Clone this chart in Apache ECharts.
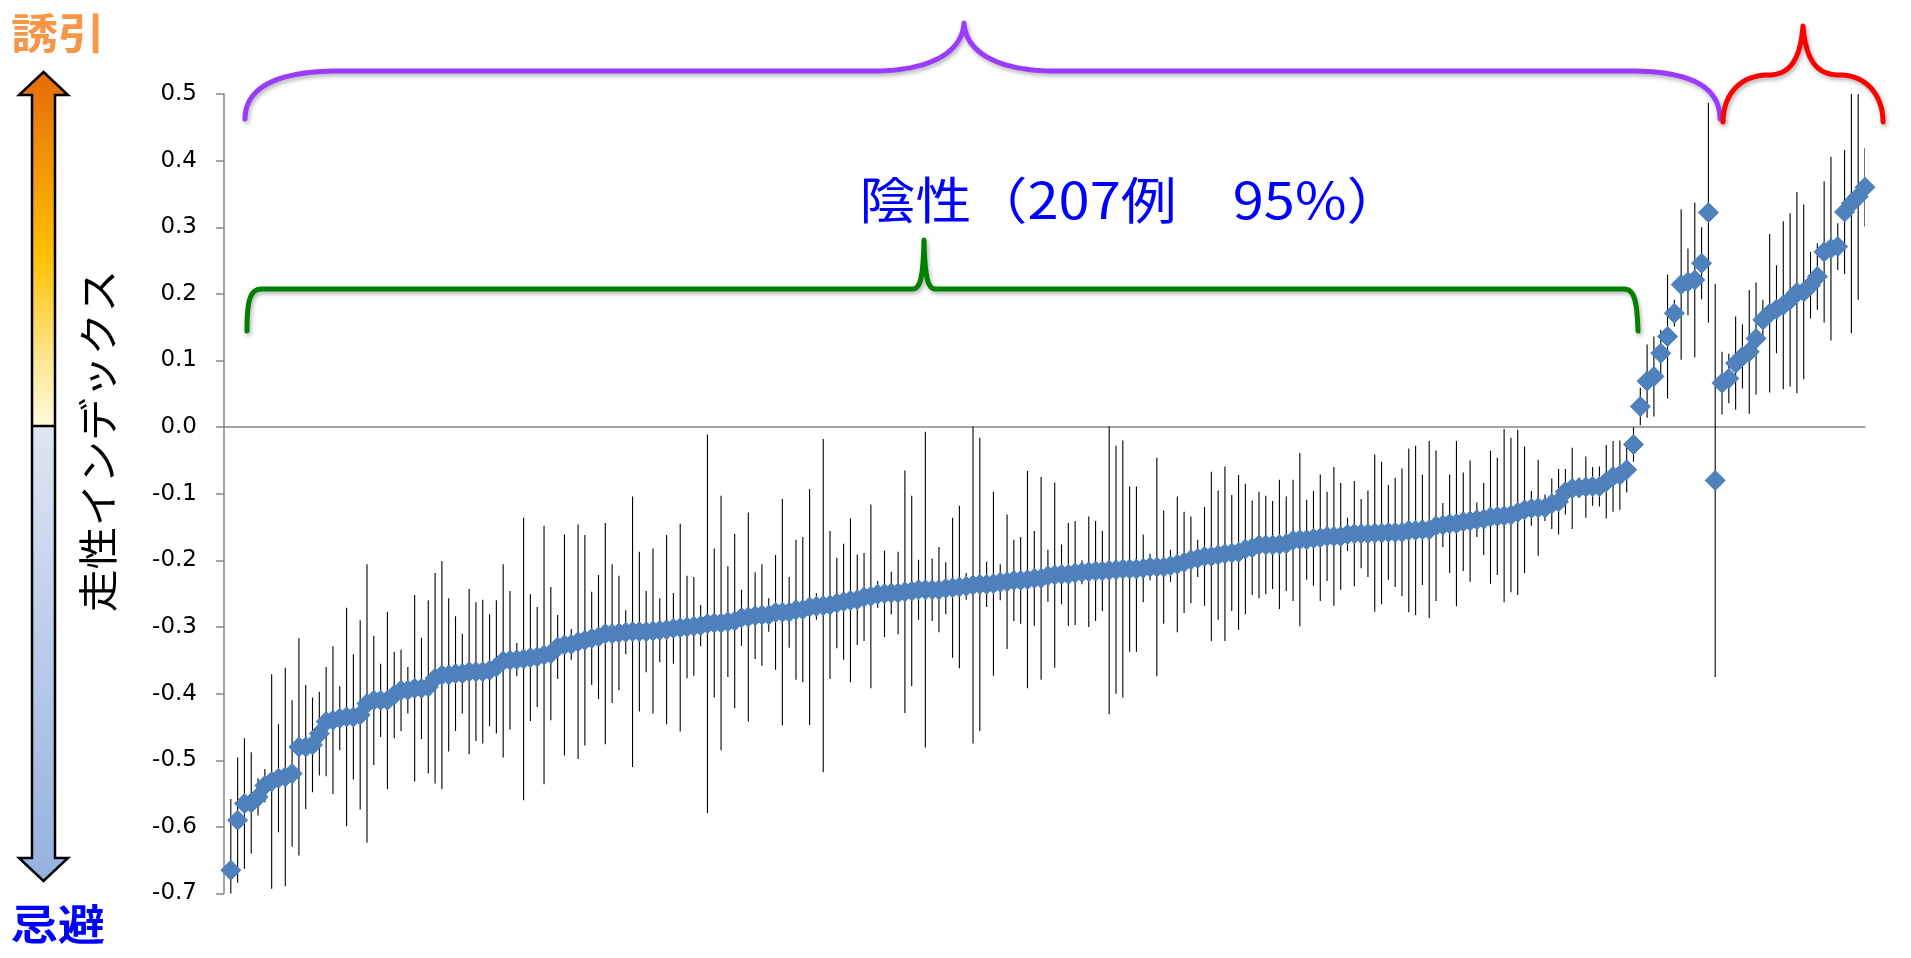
<!DOCTYPE html>
<html>
<head>
<meta charset="utf-8">
<title>走性インデックス</title>
<script src="https://cdn.jsdelivr.net/npm/echarts@6/dist/echarts.min.js"></script>
<style>
  html, body { margin: 0; padding: 0; background: #fff; }
  #chart { width: 1911px; height: 958px; }
</style>
</head>
<body>
<div id="chart"></div>
<script>
// Chemotaxis index per strain, sorted within each group (mean and 95% CI half-width).
// Group A: 218 strains (207 negative + 11 positive).
const groupAIndex = [
  -0.665, -0.590, -0.565, -0.564, -0.555, -0.538, -0.532, -0.527, -0.525, -0.520,
  -0.480, -0.480, -0.477, -0.460, -0.442, -0.440, -0.437, -0.435, -0.435, -0.432,
  -0.415, -0.410, -0.410, -0.410, -0.402, -0.395, -0.395, -0.392, -0.392, -0.390,
  -0.377, -0.372, -0.372, -0.370, -0.370, -0.367, -0.367, -0.367, -0.365, -0.360,
  -0.351, -0.350, -0.349, -0.348, -0.346, -0.345, -0.342, -0.340, -0.330, -0.327,
  -0.326, -0.322, -0.320, -0.317, -0.315, -0.310, -0.310, -0.309, -0.308, -0.307,
  -0.307, -0.307, -0.306, -0.305, -0.304, -0.302, -0.301, -0.300, -0.299, -0.298,
  -0.295, -0.294, -0.294, -0.292, -0.291, -0.286, -0.285, -0.283, -0.282, -0.282,
  -0.278, -0.278, -0.278, -0.274, -0.274, -0.270, -0.269, -0.268, -0.267, -0.264,
  -0.262, -0.260, -0.259, -0.255, -0.254, -0.251, -0.250, -0.249, -0.249, -0.247,
  -0.246, -0.244, -0.244, -0.244, -0.244, -0.242, -0.241, -0.240, -0.239, -0.237,
  -0.236, -0.236, -0.235, -0.233, -0.232, -0.230, -0.230, -0.229, -0.227, -0.227,
  -0.223, -0.222, -0.221, -0.221, -0.219, -0.218, -0.217, -0.216, -0.216, -0.215,
  -0.214, -0.213, -0.213, -0.213, -0.212, -0.210, -0.210, -0.210, -0.208, -0.206,
  -0.203, -0.199, -0.197, -0.194, -0.194, -0.192, -0.190, -0.189, -0.188, -0.183,
  -0.181, -0.177, -0.177, -0.177, -0.176, -0.175, -0.170, -0.169, -0.169, -0.167,
  -0.166, -0.164, -0.164, -0.164, -0.161, -0.160, -0.160, -0.160, -0.159, -0.159,
  -0.158, -0.158, -0.158, -0.155, -0.155, -0.154, -0.154, -0.148, -0.147, -0.145,
  -0.145, -0.142, -0.141, -0.139, -0.138, -0.135, -0.134, -0.133, -0.132, -0.128,
  -0.124, -0.122, -0.121, -0.121, -0.115, -0.112, -0.097, -0.092, -0.091, -0.090,
  -0.089, -0.089, -0.082, -0.074, -0.072, -0.064, -0.026,
   0.031,  0.069,  0.076,  0.111,  0.136,  0.171,  0.214,  0.218,  0.221,  0.246,
   0.322
];
const groupAError = [
  0.107, 0.094, 0.098, 0.076, 0.028, 0.025, 0.161, 0.081, 0.164, 0.110,
  0.163, 0.093, 0.071, 0.063, 0.082, 0.111, 0.048, 0.164, 0.094, 0.142,
  0.209, 0.097, 0.055, 0.133, 0.065, 0.061, 0.035, 0.140, 0.076, 0.130,
  0.158, 0.171, 0.115, 0.086, 0.060, 0.124, 0.104, 0.108, 0.084, 0.100,
  0.145, 0.104, 0.025, 0.212, 0.095, 0.075, 0.194, 0.100, 0.048, 0.166,
  0.023, 0.176, 0.158, 0.070, 0.093, 0.166, 0.104, 0.086, 0.033, 0.203,
  0.120, 0.061, 0.124, 0.048, 0.142, 0.053, 0.156, 0.077, 0.074, 0.031,
  0.284, 0.112, 0.191, 0.083, 0.131, 0.042, 0.157, 0.065, 0.076, 0.025,
  0.086, 0.170, 0.053, 0.105, 0.109, 0.177, 0.020, 0.250, 0.111, 0.068,
  0.087, 0.123, 0.068, 0.066, 0.138, 0.020, 0.065, 0.032, 0.062, 0.182,
  0.143, 0.045, 0.237, 0.047, 0.064, 0.039, 0.105, 0.122, 0.020, 0.238,
  0.220, 0.034, 0.138, 0.027, 0.101, 0.061, 0.065, 0.163, 0.071, 0.152,
  0.039, 0.139, 0.045, 0.077, 0.078, 0.018, 0.083, 0.075, 0.060, 0.216,
  0.186, 0.193, 0.124, 0.124, 0.051, 0.020, 0.164, 0.085, 0.024, 0.102,
  0.076, 0.065, 0.028, 0.074, 0.127, 0.097, 0.131, 0.087, 0.116, 0.098,
  0.071, 0.080, 0.074, 0.066, 0.097, 0.071, 0.091, 0.130, 0.060, 0.071,
  0.095, 0.067, 0.104, 0.080, 0.025, 0.079, 0.052, 0.065, 0.118, 0.107,
  0.071, 0.082, 0.096, 0.123, 0.127, 0.083, 0.133, 0.113, 0.033, 0.074,
  0.124, 0.074, 0.091, 0.026, 0.054, 0.100, 0.088, 0.130, 0.116, 0.124,
  0.095, 0.026, 0.072, 0.020, 0.038, 0.049, 0.034, 0.061, 0.015, 0.046,
  0.029, 0.030, 0.055, 0.053, 0.052, 0.034, 0.026,
  0.028, 0.055, 0.060, 0.035, 0.093, 0.020, 0.113, 0.050, 0.116, 0.054,
  0.165
];
// Group B: 23 strains.
const groupBIndex = [
  -0.080,
   0.066,  0.073,  0.096,  0.106,  0.113,  0.133,  0.161,  0.171,  0.177,  0.183,
   0.191,  0.202,  0.203,  0.213,  0.226,  0.263,  0.268,  0.271,  0.323,  0.336,
   0.346,  0.360
];
const groupBError = [
  0.295,
  0.047, 0.037, 0.070, 0.048, 0.093, 0.084, 0.030, 0.119, 0.066, 0.126,
  0.130, 0.151, 0.131, 0.050, 0.050, 0.106, 0.138, 0.035, 0.093, 0.195,
  0.155, 0.059
];

const yTicks = { min: -0.7, max: 0.5, step: 0.1 };

// Sequence positions: group A first, group B after it.
const allIndex = groupAIndex.concat(groupBIndex);
const allError = groupAError.concat(groupBError);
const pointData = allIndex.map((v, i) => [i + 1, v]);
const barData = allIndex.map((v, i) => [i + 1, v - allError[i], v + allError[i]]);

const cjk = '"Noto Sans CJK JP", "Noto Sans", sans-serif';

// Flatten a simple "M/L/C" path string into one polyline so the stroke and its
// shadow are drawn in a single pass (no overlaps at the joints).
function braceElement(d, color) {
  const tok = d.replace(/([MLC])/g, ' $1 ').trim().split(/[\s,]+/);
  const pts = [];
  let cx = 0, cy = 0, i = 0, cmd = 'M';
  while (i < tok.length) {
    if (/^[MLC]$/.test(tok[i])) { cmd = tok[i]; i++; }
    if (cmd === 'M') {
      cx = +tok[i]; cy = +tok[i + 1]; i += 2;
      pts.push([cx, cy]);
    } else if (cmd === 'L') {
      cx = +tok[i]; cy = +tok[i + 1]; i += 2;
      pts.push([cx, cy]);
    } else {
      const a = tok.slice(i, i + 6).map(Number); i += 6;
      const steps = 30;
      for (let s = 1; s <= steps; s++) {
        const t = s / steps, u = 1 - t;
        const x = u * u * u * cx + 3 * u * u * t * a[0] + 3 * u * t * t * a[2] + t * t * t * a[4];
        const y = u * u * u * cy + 3 * u * u * t * a[1] + 3 * u * t * t * a[3] + t * t * t * a[5];
        pts.push([x, y]);
      }
      cx = a[4]; cy = a[5];
    }
  }
  return {
    type: 'polyline', z: 9,
    shape: { points: pts, smooth: 0 },
    style: {
      fill: 'none', stroke: color, lineWidth: 5, lineCap: 'round', lineJoin: 'round',
      shadowColor: 'rgba(0,0,0,0.3)', shadowBlur: 4, shadowOffsetX: 1.5, shadowOffsetY: 2.5
    }
  };
}

const chart = echarts.init(document.getElementById('chart'), null, { renderer: 'canvas' });

const graphics = [
  // legend arrow: attraction (top) / avoidance (bottom)
  {
    type: 'polygon', z: 10,
    shape: { points: [[43.5, 72], [68, 95], [55, 95], [55, 426], [32, 426], [32, 95], [19, 95]] },
    style: {
      fill: new echarts.graphic.LinearGradient(0, 0, 0, 1, [
        { offset: 0, color: '#e46c0a' },
        { offset: 0.08, color: '#e8780a' },
        { offset: 0.52, color: '#ffc000' },
        { offset: 0.83, color: '#fee89a' },
        { offset: 1, color: '#fffbda' }
      ])
    }
  },
  {
    type: 'polygon', z: 10,
    shape: { points: [[32, 426], [55, 426], [55, 858], [68, 858], [43.5, 881], [19, 858], [32, 858]] },
    style: {
      fill: new echarts.graphic.LinearGradient(0, 0, 0, 1, [
        { offset: 0, color: '#dfe6f3' },
        { offset: 1, color: '#94b1de' }
      ])
    }
  },
  {
    type: 'polygon', z: 11,
    shape: { points: [[43.5, 72], [68, 95], [55, 95], [55, 858], [68, 858], [43.5, 881], [19, 858], [32, 858], [32, 95], [19, 95]] },
    style: { fill: 'none', stroke: '#000', lineWidth: 2.5, lineJoin: 'miter' }
  },
  {
    type: 'line', z: 11,
    shape: { x1: 32, y1: 426, x2: 55, y2: 426 },
    style: { stroke: '#000', lineWidth: 2.5 }
  },
  {
    type: 'text', z: 12, x: 11, y: 12, scaleX: 1.12,
    style: { text: '誘引', fill: '#f79646', font: 'bold 42px ' + cjk, align: 'left', verticalAlign: 'top' }
  },
  {
    type: 'text', z: 12, x: 11, y: 903, scaleX: 1.12,
    style: { text: '忌避', fill: '#0000ff', font: 'bold 42px ' + cjk, align: 'left', verticalAlign: 'top' }
  },
  {
    type: 'text', z: 12, x: 98, y: 441, rotation: Math.PI / 2, scaleX: 1.07,
    style: { text: '走性インデックス', fill: '#000', font: '40px ' + cjk, align: 'center', verticalAlign: 'middle' }
  },
  {
    type: 'text', z: 12, x: 1131, y: 200, scaleX: 1.12,
    style: { text: '陰性（207例　95%）', fill: '#0000ff', font: '50px ' + cjk, align: 'center', verticalAlign: 'middle' }
  },
  // group braces
  braceElement('M245 119 C245 86 280 71 339 71 L873 71 C925 71 962 55 964 23 C966 55 1003 71 1055 71 L1630 71 C1689 71 1720 86 1720 119', '#9b3bff'),
  braceElement('M247 331 C247 300 250 289 262 289 L912 289 C920 289 923 280 924 240 C925 280 928 289 936 289 L1624 289 C1634 289 1637 300 1638 331', '#008000'),
  braceElement('M1723 122 C1723 95 1740 75 1768 75 C1790 75 1800 60 1803 26 C1806 60 1816 75 1840 75 C1866 75 1883 95 1883 122', '#ff0000')
];

chart.setOption({
  animation: false,
  backgroundColor: '#ffffff',
  grid: { left: 224, right: 46, top: 94, bottom: 64.5, containLabel: false },
  xAxis: {
    type: 'value', min: 0, max: allIndex.length,
    axisLine: { onZero: true, lineStyle: { color: '#868686', width: 1.5 } },
    axisTick: { show: false }, axisLabel: { show: false }, splitLine: { show: false }
  },
  yAxis: {
    type: 'value', min: yTicks.min, max: yTicks.max, interval: yTicks.step,
    axisLine: { show: true, onZero: false, lineStyle: { color: '#868686', width: 1.5 } },
    axisTick: { show: true, inside: false, length: 8, lineStyle: { color: '#868686', width: 1.5 } },
    axisLabel: {
      margin: 27, color: '#000', fontSize: 23, fontFamily: '"DejaVu Sans", sans-serif',
      formatter: v => v.toFixed(1)
    },
    splitLine: { show: false }
  },
  series: [
    {
      type: 'custom', name: 'CI', clip: true, z: 2,
      data: barData,
      renderItem: function (params, api) {
        const lo = api.coord([api.value(0), api.value(1)]);
        const hi = api.coord([api.value(0), api.value(2)]);
        return {
          type: 'line',
          shape: { x1: lo[0], y1: lo[1], x2: hi[0], y2: hi[1] },
          style: { stroke: '#000', lineWidth: 1.1 }
        };
      }
    },
    {
      type: 'scatter', name: '走性インデックス', z: 3,
      symbol: 'diamond', symbolSize: 20,
      itemStyle: { color: '#4f81bd', borderColor: '#4a7ebb', borderWidth: 1, opacity: 1 },
      data: pointData
    }
  ],
  graphic: graphics
});
</script>
</body>
</html>
